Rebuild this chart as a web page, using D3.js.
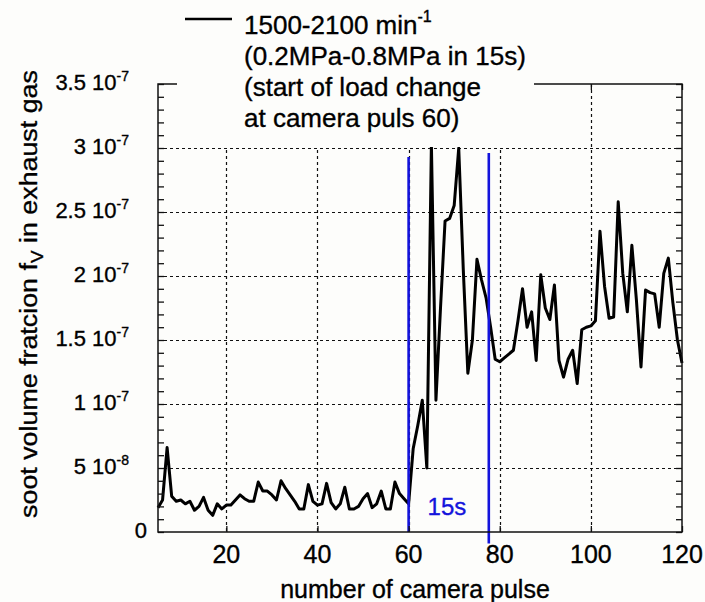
<!DOCTYPE html>
<html><head><meta charset="utf-8">
<script src="https://cdn.jsdelivr.net/npm/d3@7"></script>
<style>html,body{margin:0;padding:0;background:#fdfdfb;} svg{display:block;} text{stroke:currentColor;stroke-width:0.35px;}</style>
</head><body>
<svg id="chart" width="705" height="602"></svg>
<script>
// ---------- data ----------
const startPulse = 5;
// soot volume fraction per camera pulse, in units of 1e-8 (pulses 5..120)
const sootValues = [
  1.9, 2.5, 6.6, 2.8, 2.4, 2.5, 2.2, 2.4, 1.7, 2.0,   // 5-14
  2.7, 1.7, 1.3, 2.2, 1.8, 2.1, 2.1, 2.5, 2.9, 2.6,   // 15-24
  2.4, 2.4, 3.9, 3.2, 3.2, 2.9, 2.5, 4.0, 3.4, 2.9,   // 25-34
  2.4, 1.8, 1.8, 3.7, 2.4, 2.1, 2.2, 3.8, 2.3, 1.8,   // 35-44
  2.2, 3.5, 1.8, 1.8, 2.0, 2.6, 3.0, 1.9, 2.2, 3.2,   // 45-54
  1.8, 1.8, 3.9, 3.0, 2.6, 2.2, 6.5, 8.3, 10.3, 5.0,  // 55-64
  30.3, 10.3, 17.5, 24.3, 24.5, 25.5, 30.0, 20.5, 12.4, 15.0, // 65-74
  21.3, 19.7, 18.3, 16.0, 13.5, 13.3, 13.6, 13.9, 14.2, 16.5, // 75-84
  19.0, 16.0, 17.2, 13.4, 20.1, 17.5, 16.6, 19.3, 13.4, 12.1, // 85-94
  13.5, 14.2, 11.6, 15.8, 16.0, 16.1, 16.5, 23.5, 19.2, 16.7, // 95-104
  16.8, 25.8, 20.2, 17.2, 22.4, 18.1, 12.9, 18.9, 18.7, 18.6, // 105-114
  16.0, 20.2, 21.4, 17.9, 15.0, 13.2                          // 115-120
];
const valueUnit = 1e-8;

const xDomain = [5, 120];
const yDomain = [0, 3.5e-7];
const xTicks = [20, 40, 60, 80, 100, 120];
const yTicks = [0, 5e-8, 1e-7, 1.5e-7, 2e-7, 2.5e-7, 3e-7, 3.5e-7];
const yTickMantissa = ["0", "5 10", "1 10", "1.5 10", "2 10", "2.5 10", "3 10", "3.5 10"];
const yTickExponent = ["", "-8", "-7", "-7", "-7", "-7", "-7", "-7"];
const yMinorStep = 1e-8;

// blue markers: start and end of the 15 s load change
const markerPulse = [60, 77.6];
const markerTop = [2.93e-7, 2.96e-7];
const markerBottom = [0, -0.09e-7];
const markerLabel = "15s";

const legendMain = "1500-2100 min";
const legendSup = "-1";
const legendLines = ["(0.2MPa-0.8MPa in 15s)", "(start of load change", "at camera puls 60)"];
const xTitle = "number of camera pulse";
const yTitleA = "soot volume fratcion f";
const yTitleSub = "V";
const yTitleB = " in exhaust gas";

// ---------- drawing ----------
const W = 705, H = 602;
const L = 158, R = 682, T = 84, B = 532;
const FONT = "Arial, 'Liberation Sans', Helvetica, sans-serif";
const BG = "#fdfdfb";
const BLUE = "#1414dc";

const svg = d3.select("#chart");
svg.append("rect").attr("width", W).attr("height", H).attr("fill", BG);

const x = d3.scaleLinear().domain(xDomain).range([L, R]);
const y = d3.scaleLinear().domain(yDomain).range([B, T]);

const data = sootValues.map((v, i) => ({ pulse: startPulse + i, value: v * valueUnit }));

// grid
const grid = svg.append("g").attr("stroke", "#111").attr("stroke-width", 1.2)
  .attr("stroke-dasharray", "3,3").attr("fill", "none");
grid.selectAll("line.gx").data(xTicks.filter(t => t < xDomain[1])).join("line")
  .attr("x1", d => Math.round(x(d)) + 0.5).attr("x2", d => Math.round(x(d)) + 0.5)
  .attr("y1", T).attr("y2", B);
grid.selectAll("line.gy").data(yTicks.filter(t => t > yDomain[0] && t < yDomain[1])).join("line")
  .attr("class", "gy")
  .attr("x1", L).attr("x2", R)
  .attr("y1", d => Math.round(y(d)) + 0.5).attr("y2", d => Math.round(y(d)) + 0.5);

// data line
const line = d3.line().x(d => x(d.pulse)).y(d => y(d.value));
svg.append("path").datum(data).attr("d", line)
  .attr("fill", "none").attr("stroke", "#000").attr("stroke-width", 3)
  .attr("stroke-linejoin", "round");

// blue markers
markerPulse.forEach((p, i) => {
  svg.append("line")
    .attr("x1", x(p)).attr("x2", x(p))
    .attr("y1", y(markerTop[i])).attr("y2", y(markerBottom[i]))
    .attr("stroke", BLUE).attr("stroke-width", 2.6);
});
svg.append("text").attr("x", x(markerPulse[0]) + 19).attr("y", 515)
  .attr("font-family", FONT).attr("font-size", 24).attr("fill", BLUE).style("color", BLUE)
  .text(markerLabel);

// axes frame + ticks (inward)
const yAxisL = d3.axisRight(y).tickValues(d3.range(0, yDomain[1] + 1e-12, yMinorStep))
  .tickSize(6).tickFormat("");
const yAxisR = d3.axisLeft(y).tickValues(d3.range(0, yDomain[1] + 1e-12, yMinorStep))
  .tickSize(6).tickFormat("");
const xAxisB = d3.axisTop(x).tickValues(xTicks).tickSize(6).tickFormat("");
const xAxisT = d3.axisBottom(x).tickValues(xTicks).tickSize(6).tickFormat("");
function styleAxis(g) {
  g.select(".domain").remove();
  g.selectAll(".tick line").attr("stroke", "#111").attr("stroke-width", 1.3);
}
svg.append("g").attr("transform", `translate(${L},0)`).call(yAxisL).call(styleAxis);
svg.append("g").attr("transform", `translate(${R},0)`).call(yAxisR).call(styleAxis);
svg.append("g").attr("transform", `translate(0,${B})`).call(xAxisB).call(styleAxis);
svg.append("g").attr("transform", `translate(0,${T})`).call(xAxisT).call(styleAxis);
svg.append("rect").attr("x", L).attr("y", T).attr("width", R - L).attr("height", B - T)
  .attr("fill", "none").attr("stroke", "#111").attr("stroke-width", 1.5);

// legend (white box covering top of axes)
svg.append("rect").attr("x", 177).attr("y", 0).attr("width", 357).attr("height", 147).attr("fill", BG);
svg.append("line").attr("x1", 185).attr("x2", 232).attr("y1", 19).attr("y2", 19)
  .attr("stroke", "#000").attr("stroke-width", 2.5);
const leg = svg.append("g").attr("font-family", FONT).attr("font-size", 26).attr("fill", "#000").style("color", "#000");
const l1 = leg.append("text").attr("x", 244).attr("y", 34);
l1.append("tspan").text(legendMain);
l1.append("tspan").attr("font-size", 16).attr("dy", -12).text(legendSup);
legendLines.forEach((s, i) => {
  leg.append("text").attr("x", 244).attr("y", 65 + i * 31).text(s);
});

// y tick labels
const yl = svg.append("g").attr("font-family", FONT).attr("font-size", 22).attr("fill", "#000").style("color", "#000");
yTicks.forEach((t, i) => {
  const tx = yl.append("text").attr("text-anchor", "end")
    .attr("x", yTickExponent[i] ? 129 : 147).attr("y", y(t) + 6);
  tx.append("tspan").text(yTickMantissa[i]);
  if (yTickExponent[i]) tx.append("tspan").attr("font-size", 14).attr("dy", -9).text(yTickExponent[i]);
});

// x tick labels
const xl = svg.append("g").attr("font-family", FONT).attr("font-size", 25).attr("fill", "#000").style("color", "#000");
xTicks.forEach(t => {
  xl.append("text").attr("text-anchor", "middle").attr("x", x(t)).attr("y", 563).text(t);
});

// axis titles
svg.append("text").attr("font-family", FONT).attr("font-size", 25).style("color", "#000")
  .attr("text-anchor", "middle").attr("x", 415).attr("y", 598).text(xTitle);

const yt = svg.append("text").attr("font-family", FONT).attr("font-size", 24).style("color", "#000")
  .attr("text-anchor", "middle");
yt.append("tspan").text(yTitleA);
yt.append("tspan").attr("font-size", 17).attr("dy", 6).text(yTitleSub);
yt.append("tspan").attr("dy", -6).text(yTitleB);
const ytLen = yt.node().getComputedTextLength();
const ytScale = 448 / ytLen;
yt.attr("transform", `translate(37,294) rotate(-90) scale(${ytScale},1)`);
</script>
</body></html>
